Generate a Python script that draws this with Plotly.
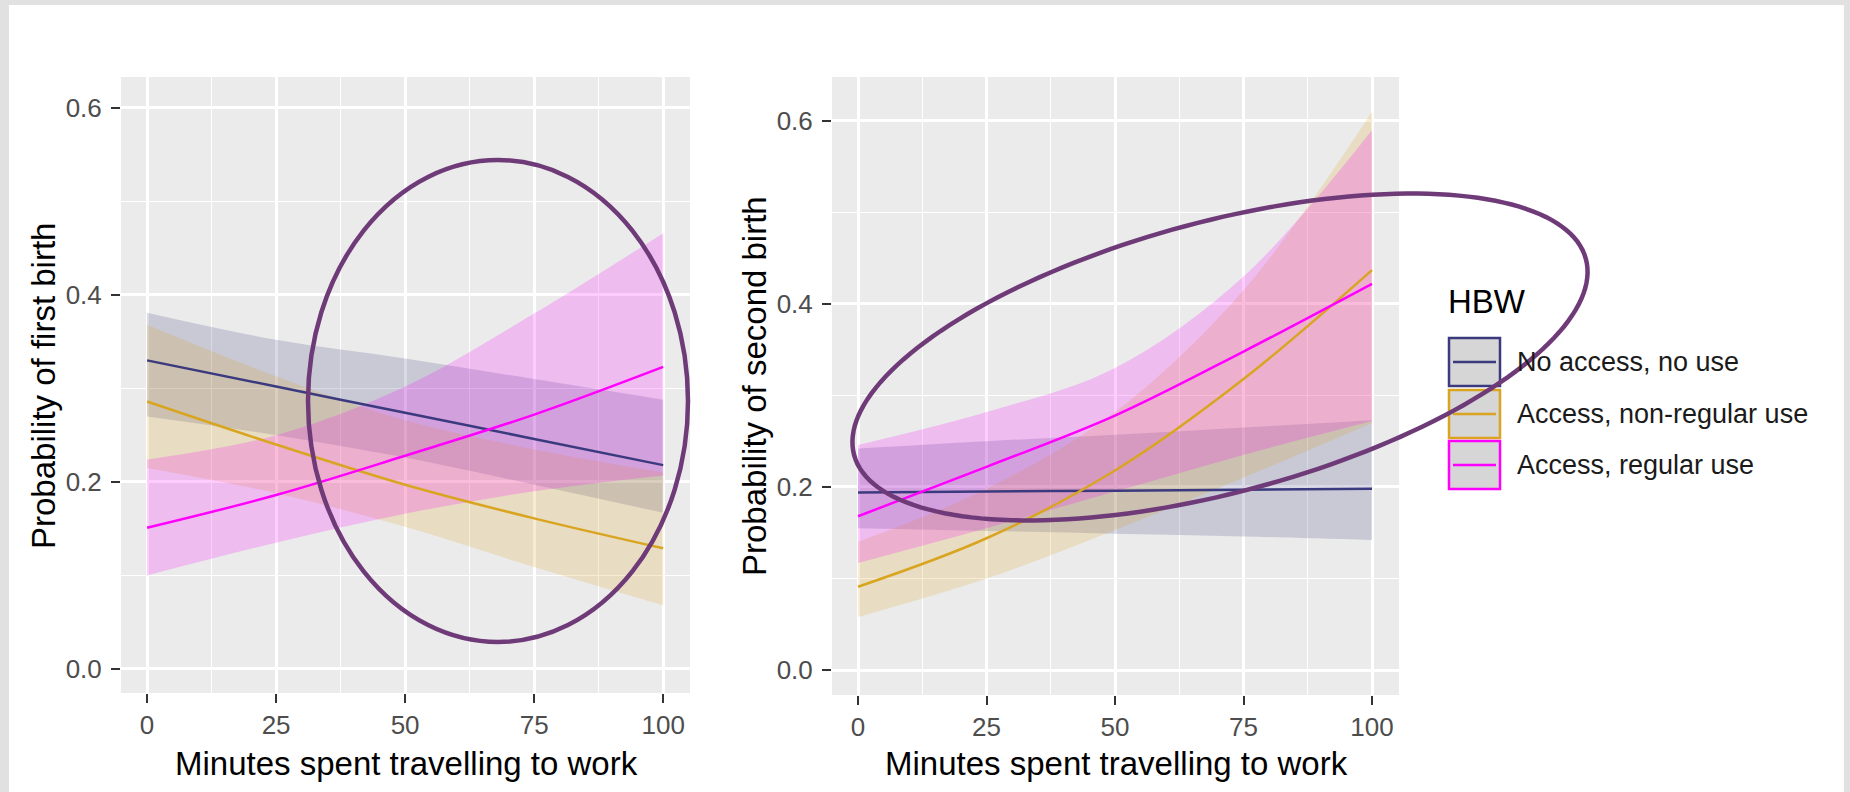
import numpy as np
import plotly.graph_objects as go

W, H = 1850, 792

# ---------------- data ----------------
minutes = [0, 25, 50, 75, 100]
groups = ["No access, no use", "Access, non-regular use", "Access, regular use"]
colors = ["#3c3a7e", "#d9a521", "#ff00ff"]
fills = ["rgba(60,58,126,0.19)", "rgba(218,165,32,0.2)", "rgba(255,0,255,0.2)"]

# Panel 1: Probability of first birth
p1_fit = [
    [0.330, 0.302, 0.274, 0.246, 0.218],
    [0.286, 0.240, 0.197, 0.161, 0.129],
    [0.151, 0.186, 0.228, 0.272, 0.323],
]
p1_upper = [
    [0.381, 0.352, 0.332, 0.310, 0.288],
    [0.368, 0.313, 0.266, 0.235, 0.210],
    [0.224, 0.250, 0.302, 0.380, 0.466],
]
p1_lower = [
    [0.270, 0.250, 0.226, 0.197, 0.167],
    [0.215, 0.188, 0.152, 0.109, 0.068],
    [0.100, 0.135, 0.166, 0.190, 0.207],
]

# Panel 2: Probability of second birth
p2_fit = [
    [0.194, 0.195, 0.196, 0.197, 0.198],
    [0.091, 0.144, 0.218, 0.318, 0.437],
    [0.168, 0.222, 0.278, 0.348, 0.422],
]
p2_upper = [
    [0.242, 0.250, 0.257, 0.265, 0.273],
    [0.140, 0.198, 0.282, 0.415, 0.610],
    [0.246, 0.282, 0.330, 0.430, 0.590],
]
p2_lower = [
    [0.155, 0.152, 0.149, 0.146, 0.142],
    [0.058, 0.100, 0.153, 0.210, 0.270],
    [0.117, 0.155, 0.195, 0.235, 0.272],
]

x_ticks = [0, 25, 50, 75, 100]
y_ticks = [0.0, 0.2, 0.4, 0.6]
y_ticktext = ["0.0", "0.2", "0.4", "0.6"]
x_title = "Minutes spent travelling to work"
y_titles = ["Probability of first birth", "Probability of second birth"]
legend_title = "HBW"

# ---------------- figure ----------------
fig = go.Figure()
FONT = "Liberation Sans, Arial, Helvetica, sans-serif"

def add_panel(fit, upper, lower, xa, ya):
    for i in range(3):
        fig.add_trace(go.Scatter(x=minutes, y=lower[i], mode="lines", line=dict(width=0, shape="spline"),
                                 xaxis=xa, yaxis=ya, showlegend=False, hoverinfo="skip"))
        fig.add_trace(go.Scatter(x=minutes, y=upper[i], mode="lines", line=dict(width=0, shape="spline"),
                                 fill="tonexty", fillcolor=fills[i],
                                 xaxis=xa, yaxis=ya, showlegend=False, hoverinfo="skip"))
    for i in range(3):
        fig.add_trace(go.Scatter(x=minutes, y=fit[i], mode="lines", name=groups[i],
                                 line=dict(color=colors[i], width=2.5, shape="spline"),
                                 xaxis=xa, yaxis=ya, showlegend=False))

add_panel(p1_fit, p1_upper, p1_lower, "x", "y")
add_panel(p2_fit, p2_upper, p2_lower, "x2", "y2")

def px(x):
    return x / W

def py(y):
    return 1 - y / H

common_x = dict(tickvals=x_ticks, ticks="outside", ticklen=9, tickwidth=2, tickcolor="#333333",
                tickfont=dict(size=26, color="#4d4d4d", family=FONT), showgrid=True,
                gridcolor="white", gridwidth=2.5, zeroline=False, showline=False,
                minor=dict(dtick=12.5, tick0=0, showgrid=True, gridcolor="white", gridwidth=1.2))
common_y = dict(tickvals=y_ticks, ticktext=y_ticktext, ticks="outside", ticklen=9, tickwidth=2,
                tickcolor="#333333", tickfont=dict(size=26, color="#4d4d4d", family=FONT),
                showgrid=True, gridcolor="white", gridwidth=2.5, zeroline=False, showline=False,
                ticklabelstandoff=4,
                minor=dict(dtick=0.1, tick0=0, showgrid=True, gridcolor="white", gridwidth=1.2))

fig.update_layout(
    width=W, height=H, margin=dict(l=0, r=0, t=0, b=0),
    paper_bgcolor="white", plot_bgcolor="#ebebeb", showlegend=False,
    font=dict(family=FONT),
    xaxis=dict(domain=[px(121), px(690)], range=[-5.05, 105.2], anchor="y", **common_x),
    yaxis=dict(domain=[py(693), py(77)], range=[-0.0257, 0.633], anchor="x", **common_y),
    xaxis2=dict(domain=[px(832), px(1399)], range=[-5.06, 105.25], anchor="y2", **common_x),
    yaxis2=dict(domain=[py(695), py(77)], range=[-0.0273, 0.648], anchor="x2", **common_y),
)

shapes = []
annotations = []

# outer grey frame
for (x0, y0, x1, y1) in [(0, 0, W, 5), (0, 0, 9, H), (W - 6, 0, W, H)]:
    shapes.append(dict(type="rect", xref="paper", yref="paper", x0=px(x0), x1=px(x1), y0=py(y1), y1=py(y0),
                       fillcolor="#e1e1e1", line=dict(width=0), layer="above"))

# axis titles
for cx in [406, 1116]:
    annotations.append(dict(text=x_title, xref="paper", yref="paper", x=px(cx), y=py(763),
                            xanchor="center", yanchor="middle", showarrow=False,
                            font=dict(size=33, color="black", family=FONT)))
for cx, cy, t in [(43, 386, y_titles[0]), (754, 386, y_titles[1])]:
    annotations.append(dict(text=t, xref="paper", yref="paper", x=px(cx), y=py(cy), textangle=-90,
                            xanchor="center", yanchor="middle", showarrow=False,
                            font=dict(size=33, color="black", family=FONT)))

# legend (drawn manually, ggplot style)
annotations.append(dict(text=legend_title, xref="paper", yref="paper", x=px(1446), y=py(302),
                        xanchor="left", yanchor="middle", showarrow=False,
                        font=dict(size=33, color="black", family=FONT)))
row_top = [337, 389, 440]
for i in range(3):
    t = row_top[i]
    shapes.append(dict(type="rect", xref="paper", yref="paper", x0=px(1449), x1=px(1500),
                       y0=py(t + 49), y1=py(t + 1), fillcolor="#d6d6d6",
                       line=dict(color=colors[i], width=2.5), layer="above"))
    cy = t + 25
    shapes.append(dict(type="line", xref="paper", yref="paper", x0=px(1453), x1=px(1496),
                       y0=py(cy), y1=py(cy), line=dict(color=colors[i], width=2.5), layer="above"))
    annotations.append(dict(text=groups[i], xref="paper", yref="paper", x=px(1515), y=py(cy),
                            xanchor="left", yanchor="middle", showarrow=False,
                            font=dict(size=27, color="#1a1a1a", family=FONT)))

# highlight ellipses
ell_color = "#6f3a78"
shapes.append(dict(type="circle", xref="paper", yref="paper", x0=px(308), x1=px(688),
                   y0=py(642), y1=py(160), line=dict(color=ell_color, width=4.5), layer="above"))

cx, cy, a, b, phi = 1220.0, 357.0, 378.8, 135.4, np.deg2rad(-15.0)
t = np.linspace(0, 2 * np.pi, 181)
ex = cx + a * np.cos(t) * np.cos(phi) - b * np.sin(t) * np.sin(phi)
ey = cy + a * np.cos(t) * np.sin(phi) + b * np.sin(t) * np.cos(phi)
path = "M " + " L ".join(f"{px(xx):.5f},{py(yy):.5f}" for xx, yy in zip(ex, ey)) + " Z"
shapes.append(dict(type="path", xref="paper", yref="paper", path=path,
                   line=dict(color=ell_color, width=4.5), layer="above"))

fig.update_layout(shapes=shapes, annotations=annotations)
fig.write_html("out.html", config={"displayModeBar": False},
               post_script="document.body.style.margin='0';document.body.style.overflow='hidden';")
